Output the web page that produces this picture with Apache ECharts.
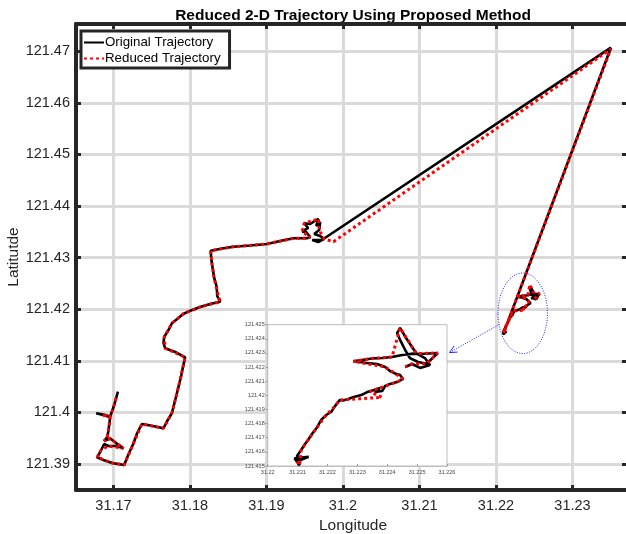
<!DOCTYPE html>
<html><head><meta charset="utf-8">
<script src="https://cdn.jsdelivr.net/npm/echarts@6/dist/echarts.min.js"></script>
<style>html,body{margin:0;padding:0;background:#fff}#c{width:626px;height:534px}</style>
</head><body><div id="c"></div>
<script>
const lonTicks = [31.17, 31.18, 31.19, 31.20, 31.21, 31.22, 31.23];
const latTicks = [121.39, 121.40, 121.41, 121.42, 121.43, 121.44, 121.45, 121.46, 121.47];
const lonRange = [31.1651, 31.23752];
const latRange = [121.38496, 121.47527];
const insetLonRange = [31.22, 31.226];
const insetLatRange = [121.415, 121.425];
const insetStep = 0.001;

// original trajectory: route up to the far apex, then the cluster shown in the inset
const originalRoute = [
[31.17058,121.40401],[31.17035,121.40279],[31.17009,121.40143],[31.16983,121.40027],[31.16957,121.39921],
[31.16865,121.39959],[31.16774,121.39983],[31.16865,121.39950],[31.16957,121.39911],[31.16944,121.39756],
[31.16931,121.39620],[31.16918,121.39523],[31.16878,121.39446],[31.16957,121.39494],[31.17035,121.39407],
[31.17131,121.39304],[31.17035,121.39349],[31.16931,121.39349],[31.16878,121.39388],[31.16839,121.39271],
[31.16787,121.39130],[31.16865,121.39078],[31.16983,121.39019],[31.17140,121.38981],[31.17192,121.39174],
[31.17258,121.39388],[31.17310,121.39601],[31.17371,121.39775],[31.17480,121.39746],[31.17654,121.39692],
[31.17702,121.39833],[31.17763,121.39983],[31.17807,121.40240],[31.17846,121.40473],[31.17885,121.40705],
[31.17911,121.40899],[31.17937,121.41068],[31.17807,121.41171],[31.17676,121.41242],[31.17654,121.41345],
[31.17663,121.41461],[31.17719,121.41597],[31.17767,121.41733],[31.17829,121.41804],[31.17911,121.41907],
[31.18003,121.41971],[31.18133,121.42043],[31.18264,121.42101],[31.18395,121.42145],[31.18356,121.42256],
[31.18352,121.42372],[31.18343,121.42469],[31.18316,121.42605],[31.18307,121.42696],[31.18290,121.42857],
[31.18277,121.42992],[31.18271,121.43134],[31.18421,121.43176],[31.18569,121.43211],[31.18787,121.43235],
[31.19005,121.43264],[31.19179,121.43322],[31.19353,121.43374],[31.19528,121.43374],[31.19571,121.43399],
[31.19519,121.43496],[31.19467,121.43502],[31.19545,121.43574],[31.19493,121.43665],[31.19571,121.43651],
[31.19611,121.43690],[31.19680,121.43748],[31.19650,121.43612],[31.19702,121.43690],[31.19689,121.43535],
[31.19624,121.43457],[31.19702,121.43419],[31.19754,121.43361],[31.19676,121.43302],[31.19598,121.43341],
[31.19724,121.43341],[31.23502,121.47068]
];
const originalCluster = [
[31.22099,121.41533],[31.22137,121.41566],[31.22090,121.41554],[31.22107,121.41504],[31.22098,121.41571],
[31.22112,121.41613],[31.22125,121.41656],[31.22135,121.41684],[31.22148,121.41726],[31.22163,121.41767],
[31.22179,121.41826],[31.22196,121.41861],[31.22213,121.41884],[31.22224,121.41920],[31.22241,121.41967],
[31.22252,121.41964],[31.22269,121.41974],[31.22291,121.41990],[31.22313,121.42002],[31.22336,121.42026],
[31.22356,121.42038],[31.22376,121.42052],[31.22359,121.42024],[31.22383,121.42031],[31.22393,121.42066],
[31.22409,121.42080],[31.22433,121.42094],[31.22453,121.42116],[31.22443,121.42144],[31.22426,121.42155],
[31.22409,121.42172],[31.22393,121.42201],[31.22366,121.42222],[31.22332,121.42229],[31.22309,121.42236],
[31.22287,121.42241],[31.22316,121.42250],[31.22349,121.42261],[31.22383,121.42264],[31.22416,121.42271],
[31.22450,121.42286],[31.22482,121.42295],[31.22510,121.42293],[31.22569,121.42300],[31.22532,121.42224],
[31.22503,121.42236],[31.22476,121.42264],[31.22460,121.42321],[31.22443,121.42392],[31.22433,121.42441],
[31.22443,121.42477],[31.22463,121.42406],[31.22487,121.42330],[31.22499,121.42295],[31.22526,121.42264],
[31.22543,121.42215],[31.22510,121.42194],[31.22483,121.42222],[31.22460,121.42201]
];

const reducedRoute = [
[31.17035,121.40279],[31.17009,121.40143],[31.16983,121.40027],[31.16957,121.39921],[31.16848,121.39955],
[31.16957,121.39911],[31.16931,121.39620],[31.16918,121.39523],[31.16878,121.39446],[31.16957,121.39494],
[31.17131,121.39304],[31.16931,121.39349],[31.16839,121.39271],[31.16787,121.39130],[31.16983,121.39019],
[31.17140,121.38981],[31.17258,121.39388],[31.17371,121.39775],[31.17654,121.39692],[31.17763,121.39983],
[31.17846,121.40473],[31.17911,121.40899],[31.17937,121.41068],[31.17676,121.41242],[31.17663,121.41461],
[31.17767,121.41733],[31.17911,121.41907],[31.18133,121.42043],[31.18395,121.42145],[31.18352,121.42372],
[31.18316,121.42605],[31.18290,121.42857],[31.18271,121.43134],[31.18569,121.43211],[31.19005,121.43264],
[31.19353,121.43374],[31.19528,121.43374],[31.19571,121.43399],[31.19467,121.43502],[31.19493,121.43665],
[31.19680,121.43748],[31.19689,121.43535],[31.19754,121.43361],[31.19876,121.43308],[31.23502,121.47043]
];
const reducedCluster = [
[31.22099,121.41533],[31.22107,121.41504],[31.22112,121.41613],[31.22135,121.41684],[31.22163,121.41767],
[31.22196,121.41861],[31.22224,121.41920],[31.22241,121.41967],[31.22382,121.41986],[31.22342,121.42026],
[31.22393,121.42066],[31.22433,121.42094],[31.22453,121.42116],[31.22426,121.42155],[31.22393,121.42201],
[31.22287,121.42241],[31.22349,121.42261],[31.22416,121.42271],[31.22443,121.42477],[31.22487,121.42330],
[31.22499,121.42295],[31.22569,121.42300],[31.22532,121.42224],[31.22483,121.42222],[31.22460,121.42201]
];

const ellipseCenter = [31.2235, 121.4192];
const ellipseRadius = [0.00323, 0.0078];
const arrowFrom = [31.22034, 121.41696];
const arrowTo = [31.21393, 121.41159];

const FONT = '"Liberation Sans", Arial, Helvetica, sans-serif';
const AX = '#262626';
const fmt2 = v => String(+(+v).toFixed(2));
const fmt3 = v => String(+(+v).toFixed(3));

function mainX(pos, extra) {
  return Object.assign({
    type: 'value', gridIndex: 0, position: pos, min: lonRange[0], max: lonRange[1],
    axisLine: { show: true, onZero: false, lineStyle: { color: AX, width: 4 } },
    axisTick: { show: true, inside: true, length: 5, customValues: lonTicks, lineStyle: { color: AX, width: 3 } },
    axisLabel: { show: false, customValues: lonTicks },
    splitLine: { show: false }
  }, extra);
}
function mainY(pos, extra) {
  return Object.assign({
    type: 'value', gridIndex: 0, position: pos, min: latRange[0], max: latRange[1],
    axisLine: { show: true, onZero: false, lineStyle: { color: AX, width: 4 } },
    axisTick: { show: true, inside: true, length: 5, customValues: latTicks, lineStyle: { color: AX, width: 3 } },
    axisLabel: { show: false, customValues: latTicks },
    splitLine: { show: false }
  }, extra);
}

const chart = echarts.init(document.getElementById('c'), null, { renderer: 'canvas' });
const lineOrig = { color: '#000', width: 2.6, type: 'solid' };
const lineRed = { color: '#ff0000', width: 3, type: [3, 3], cap: 'butt' };

chart.setOption({
  animation: false,
  backgroundColor: '#fff',
  grid: [
    { left: 76, top: 24, width: 554, height: 466, containLabel: false, outerBoundsMode: 'none' },
    { left: 267.7, top: 324.7, width: 179.3, height: 141.3, containLabel: false, outerBoundsMode: 'none',
      show: true, backgroundColor: '#fff', borderColor: '#bdbdbd', borderWidth: 1, z: 5 }
  ],
  legend: {
    orient: 'vertical', left: 81, top: 31, itemWidth: 20, itemHeight: 14, itemGap: 3,
    padding: [5, 9, 3, 2], backgroundColor: '#fff', borderColor: AX, borderWidth: 3, borderRadius: 0,
    itemStyle: { opacity: 0 },
    textStyle: { fontFamily: FONT, fontSize: 13.3, color: '#000', padding: [0, 0, 0, -4] },
    data: ['Original Trajectory', 'Reduced Trajectory'], z: 10
  },
  xAxis: [
    mainX('bottom', {
      name: 'Longitude', nameLocation: 'middle', nameGap: 26,
      nameTextStyle: { fontFamily: FONT, fontSize: 15.5, color: AX },
      axisLabel: { show: true, customValues: lonTicks, formatter: fmt2, margin: 8, fontFamily: FONT, fontSize: 14.5, color: AX },
      splitLine: { show: true, lineStyle: { color: '#dadada', width: 3 } }
    }),
    mainX('top', {
      name: 'Reduced 2-D Trajectory Using Proposed Method', nameLocation: 'middle', nameGap: 0, nameMoveOverlap: false,
      nameTextStyle: { fontFamily: FONT, fontSize: 15.5, fontWeight: 'bold', color: '#000' }
    }),
    { type: 'value', gridIndex: 1, position: 'bottom', min: insetLonRange[0], max: insetLonRange[1], interval: insetStep, z: 5,
      axisLine: { show: true, onZero: false, lineStyle: { color: '#bdbdbd', width: 1 } },
      axisTick: { show: true, inside: true, length: 2, lineStyle: { color: '#999', width: 1 } },
      axisLabel: { formatter: fmt3, margin: 3, fontFamily: FONT, fontSize: 5.5, color: '#444' },
      splitLine: { show: false } }
  ],
  yAxis: [
    mainY('left', {
      name: 'Latitutde', nameLocation: 'middle', nameGap: 54, nameMoveOverlap: false,
      nameTextStyle: { fontFamily: FONT, fontSize: 15.5, color: AX },
      axisLabel: { show: true, customValues: latTicks, formatter: fmt2, margin: 6, fontFamily: FONT, fontSize: 14.5, color: AX },
      splitLine: { show: true, lineStyle: { color: '#dadada', width: 3 } }
    }),
    mainY('right', { axisTick: { show: true, inside: true, length: 8, customValues: latTicks, lineStyle: { color: AX, width: 3 } } }),
    { type: 'value', gridIndex: 1, position: 'left', min: insetLatRange[0], max: insetLatRange[1], interval: insetStep, z: 5,
      axisLine: { show: true, onZero: false, lineStyle: { color: '#bdbdbd', width: 1 } },
      axisTick: { show: true, inside: false, length: 2, lineStyle: { color: '#999', width: 1 } },
      axisLabel: { formatter: fmt3, margin: 3, fontFamily: FONT, fontSize: 5.5, color: '#444' },
      splitLine: { show: false } }
  ],
  series: [
    { name: 'Original Trajectory', type: 'line', xAxisIndex: 0, yAxisIndex: 0, data: originalRoute.concat(originalCluster),
      showSymbol: false, symbol: 'none', lineStyle: lineOrig, itemStyle: { color: '#000' }, z: 2 },
    { name: 'Reduced Trajectory', type: 'line', xAxisIndex: 0, yAxisIndex: 0, data: reducedRoute.concat(reducedCluster),
      showSymbol: false, symbol: 'none', lineStyle: lineRed, itemStyle: { color: '#ff0000' }, z: 3 },
    { name: 'Original Trajectory', type: 'line', xAxisIndex: 2, yAxisIndex: 2, data: originalCluster,
      showSymbol: false, symbol: 'none', lineStyle: lineOrig, itemStyle: { color: '#000' }, z: 6, clip: true },
    { name: 'Reduced Trajectory', type: 'line', xAxisIndex: 2, yAxisIndex: 2, data: reducedCluster,
      showSymbol: false, symbol: 'none', lineStyle: lineRed, itemStyle: { color: '#ff0000' }, z: 7, clip: true }
  ]
});

// annotations placed through the main axes
const toPx = p => chart.convertToPixel({ xAxisIndex: 0, yAxisIndex: 0 }, p);
const c = toPx(ellipseCenter);
const rxp = toPx([ellipseCenter[0] + ellipseRadius[0], ellipseCenter[1]])[0] - c[0];
const ryp = c[1] - toPx([ellipseCenter[0], ellipseCenter[1] + ellipseRadius[1]])[1];
const a = toPx(arrowFrom), b = toPx(arrowTo);
const ang = Math.atan2(b[1] - a[1], b[0] - a[0]);
const hl = 8, hw = 0.45;
const h1 = [b[0] - hl * Math.cos(ang - hw), b[1] - hl * Math.sin(ang - hw)];
const h2 = [b[0] - hl * Math.cos(ang + hw), b[1] - hl * Math.sin(ang + hw)];
const blue = '#2020ff';
chart.setOption({
  graphic: [
    { type: 'ellipse', z: 20, shape: { cx: c[0], cy: c[1], rx: rxp, ry: ryp },
      style: { fill: null, stroke: blue, lineWidth: 1, lineDash: [1, 1.5] } },
    { type: 'line', z: 20, shape: { x1: a[0], y1: a[1], x2: b[0], y2: b[1] },
      style: { stroke: blue, lineWidth: 1, lineDash: [1, 1.5] } },
    { type: 'polyline', z: 20, shape: { points: [h1, b, h2] },
      style: { fill: null, stroke: blue, lineWidth: 1 } }
  ]
});
</script>
</body></html>
